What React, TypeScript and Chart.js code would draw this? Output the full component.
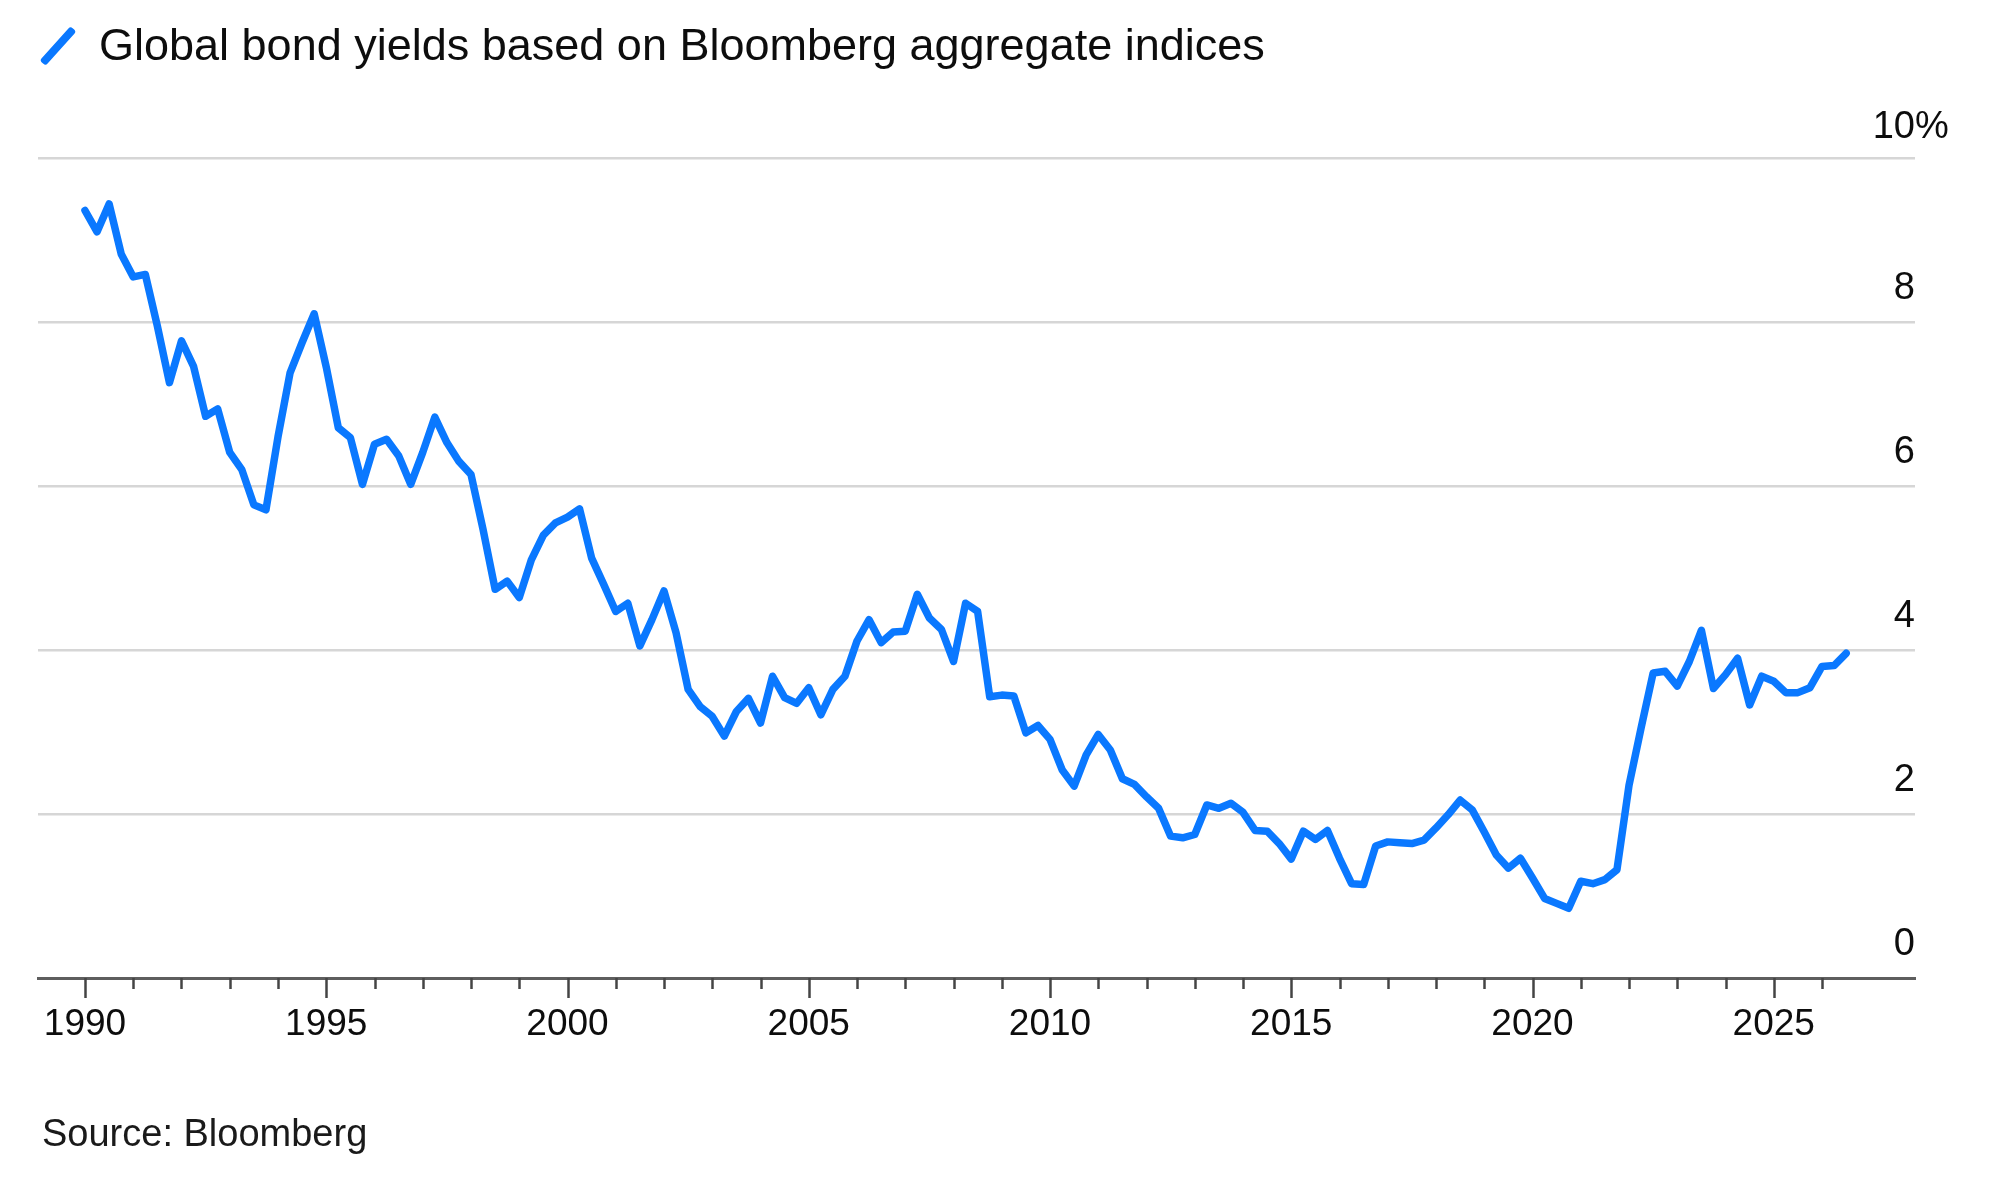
import React, { useEffect, useRef } from "react";
import Chart from "chart.js/auto";

// quarterly readings, first point is 1990 Q1
const firstYear = 1990;

const yields1990s = [
  9.36, 9.1, 9.44, 8.83,
  8.55, 8.58, 7.95, 7.26,
  7.77, 7.46, 6.85, 6.94,
  6.41, 6.2, 5.77, 5.71,
  6.6, 7.38, 7.75, 8.1,
  7.45, 6.71, 6.59, 6.02,
  6.51, 6.57, 6.37, 6.02,
  6.41, 6.84, 6.53, 6.3,
  6.14, 5.47, 4.74, 4.84,
  4.64, 5.1, 5.4, 5.55,
];

const yields2000s = [
  5.62, 5.72, 5.12, 4.8,
  4.47, 4.57, 4.05, 4.37,
  4.72, 4.21, 3.52, 3.31,
  3.19, 2.95, 3.25, 3.41,
  3.11, 3.68, 3.42, 3.35,
  3.54, 3.21, 3.52, 3.68,
  4.11, 4.37, 4.09, 4.22,
  4.23, 4.68, 4.39, 4.25,
  3.86, 4.57, 4.47, 3.43,
  3.45, 3.44, 2.99, 3.08,
];

const yields2010s = [
  2.91, 2.54, 2.34, 2.72,
  2.97, 2.78, 2.43, 2.36,
  2.21, 2.07, 1.73, 1.71,
  1.75, 2.11, 2.07, 2.13,
  2.02, 1.8, 1.79, 1.64,
  1.45, 1.79, 1.69, 1.8,
  1.46, 1.15, 1.14, 1.61,
  1.66, 1.65, 1.64, 1.68,
  1.83, 1.99, 2.17, 2.05,
  1.78, 1.5, 1.34, 1.46,
];

const yields2020s = [
  1.22, 0.97, 0.91, 0.85,
  1.18, 1.15, 1.2, 1.32,
  2.35, 3.05, 3.72, 3.74,
  3.56, 3.86, 4.24, 3.53,
  3.7, 3.9, 3.33, 3.68,
  3.62, 3.48, 3.48, 3.54,
  3.8, 3.81, 3.96,
];

const tickYears = [
  1990, 1991, 1992, 1993, 1994, 1995, 1996, 1997, 1998, 1999,
  2000, 2001, 2002, 2003, 2004, 2005, 2006, 2007, 2008, 2009,
  2010, 2011, 2012, 2013, 2014, 2015, 2016, 2017, 2018, 2019,
  2020, 2021, 2022, 2023, 2024, 2025, 2026,
];
const labelYears = [1990, 1995, 2000, 2005, 2010, 2015, 2020, 2025];
const yTicks = [0, 2, 4, 6, 8, 10];

const FONT = '"Liberation Sans", Arial, Helvetica, sans-serif';
const BLUE = "#0a78ff";

const yields = [...yields1990s, ...yields2000s, ...yields2010s, ...yields2020s];
const points = yields.map((v, i) => ({ x: firstYear + i / 4, y: v }));

// year tick marks under the axis and the right hand value labels
const axisMarks = {
  id: "axisMarks",
  afterDraw(chart: any) {
    const { ctx, chartArea, scales } = chart;
    const xs = scales.x;
    const ys = scales.y;
    ctx.save();
    ctx.strokeStyle = "#444";
    ctx.lineWidth = 2.5;
    tickYears.forEach((yr) => {
      const px = Math.round(xs.getPixelForValue(yr)) + 0.5;
      const len = labelYears.includes(yr) ? 20 : 11;
      ctx.beginPath();
      ctx.moveTo(px, chartArea.bottom);
      ctx.lineTo(px, chartArea.bottom + len);
      ctx.stroke();
    });

    ctx.font = `38px ${FONT}`;
    ctx.fillStyle = "#0d0d0d";
    ctx.textBaseline = "middle";
    yTicks.forEach((v) => {
      const py = ys.getPixelForValue(v) - (v === 10 ? 30 : 33);
      ctx.textAlign = "right";
      ctx.fillText(String(v), chartArea.right, py);
      if (v === 10) {
        ctx.textAlign = "left";
        ctx.fillText("%", chartArea.right, py);
      }
    });
    ctx.restore();
  },
};

const BondChart: React.FC = () => {
  const chartRef = useRef<HTMLCanvasElement | null>(null);
  const chartInstance = useRef<Chart | null>(null);

  useEffect(() => {
    if (!chartRef.current) return;
    if (chartInstance.current) chartInstance.current.destroy();

    chartInstance.current = new Chart(chartRef.current, {
      type: "line",
      data: {
        datasets: [
          {
            label: "Global bond yields",
            data: points,
            borderColor: BLUE,
            borderWidth: 7.5,
            pointRadius: 0,
            tension: 0,
            borderJoinStyle: "round",
            borderCapStyle: "round",
          },
        ],
      },
      options: {
        animation: false,
        responsive: true,
        maintainAspectRatio: false,
        devicePixelRatio: 1,
        layout: { padding: { left: 38, right: 85, top: 158, bottom: 125 } },
        plugins: {
          legend: { display: false },
          tooltip: { enabled: false },
        },
        scales: {
          x: {
            type: "linear",
            min: 1989.026,
            max: 2027.927,
            afterBuildTicks: (scale: any) => {
              scale.ticks = tickYears.map((v) => ({ value: v }));
            },
            afterFit: (scale: any) => {
              scale.height = 80;
            },
            grid: { display: false, drawTicks: false },
            border: { display: true, color: "#5e5e5e", width: 3 },
            ticks: {
              autoSkip: false,
              maxRotation: 0,
              padding: 25,
              color: "#0d0d0d",
              font: { family: FONT, size: 37 },
              callback: (value: any) => (labelYears.includes(Number(value)) ? String(value) : ""),
            },
          },
          y: {
            position: "right",
            min: 0,
            max: 10,
            afterBuildTicks: (scale: any) => {
              scale.ticks = yTicks.map((v) => ({ value: v }));
            },
            afterFit: (scale: any) => {
              scale.width = 0;
            },
            grid: {
              drawTicks: false,
              lineWidth: 2.5,
              color: (c: any) => (c.tick && c.tick.value === 0 ? "rgba(0,0,0,0)" : "#d6d6d6"),
            },
            border: { display: false },
            ticks: { display: false },
          },
        },
      },
      plugins: [axisMarks],
    });

    return () => {
      if (chartInstance.current) {
        chartInstance.current.destroy();
        chartInstance.current = null;
      }
    };
  }, []);

  return <canvas ref={chartRef} />;
};

const App: React.FC = () => {
  return (
    <div
      style={{
        position: "fixed",
        left: 0,
        top: 0,
        width: 2000,
        height: 1183,
        background: "#fff",
        fontFamily: FONT,
        color: "#0d0d0d",
      }}
    >
      <div style={{ position: "absolute", left: 0, top: 0, width: 2000, height: 1183 }}>
        <BondChart />
      </div>
      <div
        style={{
          position: "absolute",
          left: 35,
          top: 42,
          width: 46,
          height: 8,
          background: BLUE,
          borderRadius: 3,
          transform: "rotate(-48deg)",
        }}
      />
      <div
        style={{
          position: "absolute",
          left: 99,
          top: 22,
          fontSize: 45,
          lineHeight: 1,
          whiteSpace: "nowrap",
        }}
      >
        Global bond yields based on Bloomberg aggregate indices
      </div>
      <div
        style={{
          position: "absolute",
          left: 42,
          top: 1114,
          fontSize: 38,
          lineHeight: 1,
          whiteSpace: "nowrap",
          color: "#1a1a1a",
        }}
      >
        Source: Bloomberg
      </div>
    </div>
  );
};

export default App;
